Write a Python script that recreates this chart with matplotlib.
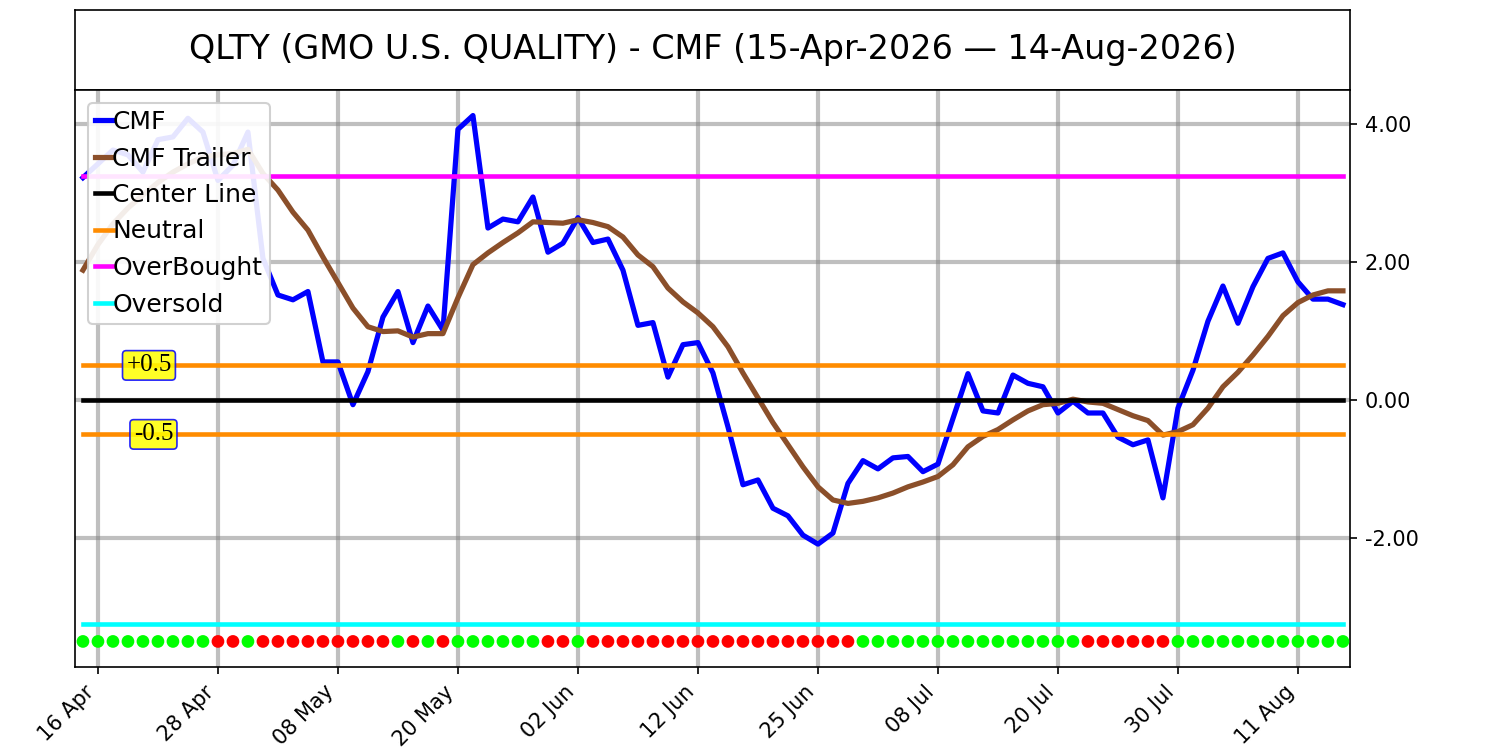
import numpy as np
import pandas as pd
import matplotlib
matplotlib.use('Agg')
import matplotlib.pyplot as plt
from matplotlib.ticker import FormatStrFormatter

TITOLO = 'QLTY (GMO U.S. QUALITY) - CMF (15-Apr-2026 \u2014 14-Aug-2026)'

# giorni di borsa (festivi USA esclusi)
FESTIVI = ['2026-05-25', '2026-06-19', '2026-07-03']
date = pd.bdate_range('2026-04-15', '2026-08-14', freq='C', holidays=FESTIVI)

cmf = [3.22, 3.42, 3.62, 3.55, 3.30, 3.77, 3.81, 4.08, 3.88, 3.18,
       3.40, 3.88, 2.05, 1.52, 1.45, 1.57, 0.55, 0.55, -0.07, 0.41,
       1.20, 1.57, 0.83, 1.36, 1.01, 3.92, 4.12, 2.49, 2.62, 2.58,
       2.94, 2.14, 2.27, 2.64, 2.28, 2.33, 1.88, 1.08, 1.12, 0.33,
       0.80, 0.83, 0.39, -0.39, -1.23, -1.16, -1.57, -1.68, -1.96, -2.09,
       -1.93, -1.21, -0.88, -1.00, -0.84, -0.82, -1.04, -0.93, -0.27, 0.38,
       -0.16, -0.19, 0.36, 0.24, 0.19, -0.19, -0.02, -0.19, -0.19, -0.54,
       -0.65, -0.58, -1.42, -0.12, 0.43, 1.14, 1.65, 1.11, 1.64, 2.05,
       2.13, 1.71, 1.46, 1.46, 1.38]

cmf_trailer = [1.88, 2.25, 2.55, 2.78, 2.97, 3.15, 3.30, 3.42, 3.52, 3.55,
               3.57, 3.63, 3.28, 3.04, 2.72, 2.46, 2.07, 1.70, 1.33, 1.06,
               0.99, 1.00, 0.91, 0.96, 0.96, 1.48, 1.96, 2.13, 2.28, 2.42,
               2.58, 2.57, 2.56, 2.61, 2.57, 2.51, 2.36, 2.10, 1.93, 1.62,
               1.42, 1.26, 1.06, 0.77, 0.39, 0.03, -0.33, -0.65, -0.97, -1.26,
               -1.45, -1.50, -1.47, -1.42, -1.35, -1.26, -1.19, -1.11, -0.94, -0.68,
               -0.53, -0.43, -0.29, -0.16, -0.07, -0.05, 0.01, -0.03, -0.05, -0.14,
               -0.23, -0.30, -0.51, -0.46, -0.36, -0.12, 0.19, 0.40, 0.65, 0.92,
               1.22, 1.41, 1.52, 1.58, 1.58]

# 1 = verde, 0 = rosso
segnale = [1, 1, 1, 1, 1, 1, 1, 1, 1, 0,
           0, 1, 0, 0, 0, 0, 0, 0, 0, 0,
           0, 1, 0, 1, 0, 1, 1, 1, 1, 1,
           1, 0, 0, 1, 0, 0, 0, 0, 0, 0,
           0, 0, 0, 0, 0, 0, 0, 0, 0, 0,
           0, 0, 1, 1, 1, 1, 1, 1, 1, 1,
           1, 1, 1, 1, 1, 1, 1, 0, 0, 0,
           0, 0, 0, 1, 1, 1, 1, 1, 1, 1,
           1, 1, 1, 1, 1]

CENTER = 0.0
NEUTRAL = 0.5
OVERBOUGHT = 3.25
OVERSOLD = -3.25
LIVELLO_PUNTI = -3.5

x = np.arange(len(date))
n = len(x)

fig = plt.figure(figsize=(10, 5), dpi=150)
ax_t = fig.add_axes([0.05, 0.88, 0.85, 0.1067])
ax_t.set_xticks([])
ax_t.set_yticks([])
ax_t.text(0.5, 0.5, TITOLO, ha='center', va='center', fontsize=16, transform=ax_t.transAxes)

ax = fig.add_axes([0.05, 0.1107, 0.85, 0.7693])
ax.set_axisbelow(True)
ax.grid(True, color='gray', alpha=0.5, linewidth=2)

ax.plot(x, cmf, color='blue', linewidth=2.5, label='CMF')
ax.plot(x, cmf_trailer, color='#8B4F2A', linewidth=2.5, label='CMF Trailer')
ax.plot(x, [CENTER] * n, color='black', linewidth=2.2, label='Center Line')
ax.plot(x, [NEUTRAL] * n, color='darkorange', linewidth=2.2, label='Neutral')
ax.plot(x, [-NEUTRAL] * n, color='darkorange', linewidth=2.2)
ax.plot(x, [OVERBOUGHT] * n, color='magenta', linewidth=2.2, label='OverBought')
ax.plot(x, [OVERSOLD] * n, color='cyan', linewidth=2.2, label='Oversold')

colori = ['lime' if s else 'red' for s in segnale]
ax.scatter(x, [LIVELLO_PUNTI] * n, c=colori, s=26, zorder=3)

box = dict(boxstyle='round,pad=0.15', facecolor='yellow', edgecolor='blue', linewidth=0.8, alpha=0.85)
ax.text(4.4, NEUTRAL, '+0.5', ha='center', va='center', fontsize=12, family='Liberation Serif', bbox=box)
ax.text(4.7, -NEUTRAL, '-0.5', ha='center', va='center', fontsize=12, family='Liberation Serif', bbox=box)

ax.set_xlim(-0.53, n - 0.53)
ax.set_ylim(-3.87, 4.49)
ax.yaxis.tick_right()
ax.set_yticks([-2, 0, 2, 4])
ax.yaxis.set_major_formatter(FormatStrFormatter('%.2f'))

pos = list(range(1, n, 8))
ax.set_xticks(pos)
ax.set_xticklabels([date[p].strftime('%d %b') for p in pos], rotation=45, ha='right')

ax.legend(loc='upper left', fontsize=12, handlelength=0.7, handletextpad=0.0,
          borderpad=0.3, framealpha=0.9)

plt.savefig('out.png')
